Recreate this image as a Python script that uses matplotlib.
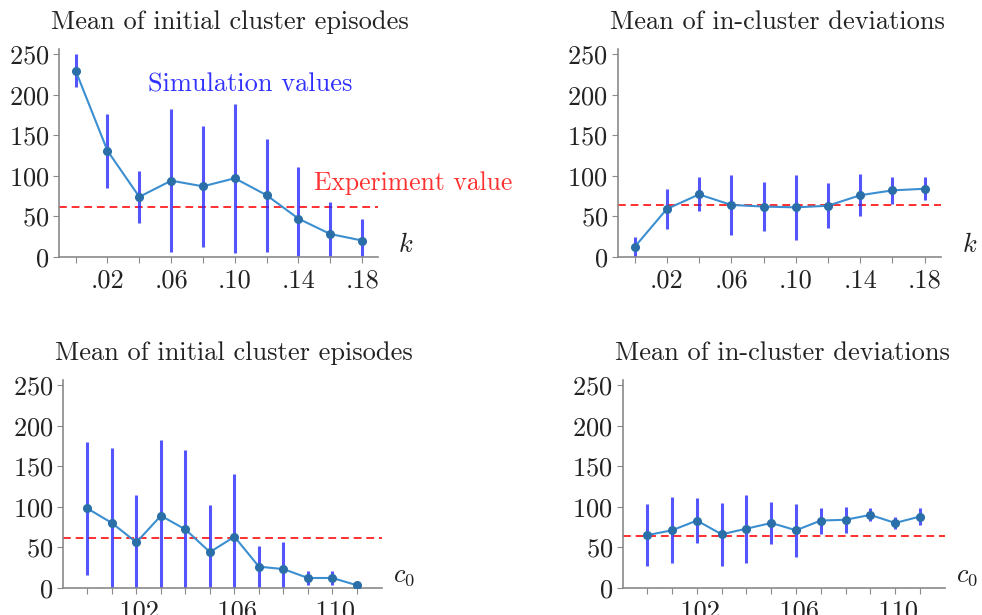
import numpy as np
import matplotlib.pyplot as plt

plt.rcParams['font.family'] = 'cmr10'
plt.rcParams['mathtext.fontset'] = 'cm'
plt.rcParams['axes.formatter.use_mathtext'] = True

# k sweep (top row)
k_vals = [0.00, 0.02, 0.04, 0.06, 0.08, 0.10, 0.12, 0.14, 0.16, 0.18]
k_labels = {0.02: '.02', 0.06: '.06', 0.10: '.10', 0.14: '.14', 0.18: '.18'}
k_init_mean = [230, 131, 74, 94, 87, 97, 76, 47, 28, 20]
k_init_err = [20, 46, 32, 88, 75, 92, 70, 64, 40, 26]
k_dev_mean = [12, 59, 77, 64, 62, 61, 63, 76, 82, 84]
k_dev_err = [12, 25, 21, 37, 30, 40, 28, 26, 17, 14]

# c0 sweep (bottom row)
c0_vals = [0.100, 0.101, 0.102, 0.103, 0.104, 0.105, 0.106, 0.107, 0.108, 0.109, 0.110, 0.111]
c0_labels = {0.102: '.102', 0.106: '.106', 0.110: '.110'}
c0_init_mean = [98, 80, 56, 89, 72, 44, 63, 26, 23, 12, 12, 3]
c0_init_err = [82, 93, 59, 93, 98, 58, 77, 26, 34, 9, 9, 3]
c0_dev_mean = [65, 71, 83, 66, 73, 80, 71, 83, 84, 90, 80, 88]
c0_dev_err = [38, 41, 28, 39, 42, 26, 33, 16, 16, 8, 8, 11]

# experiment values
exp_init = 62
exp_dev = 64.5

LINE_C = '#3b8fd0'
MARK_C = '#2a6fa8'
ERR_C = '#2525ff'
RED = '#ff3030'
GRAY = '#8a8a8a'


def tick_text(v, labels):
    for t, s in labels.items():
        if abs(v - t) < 1e-9:
            return s
    return ''


fig = plt.figure(figsize=(9.82, 6.15), dpi=100)

panels = [
    ([0.060, 0.5826, 0.325, 0.338], k_vals, k_init_mean, k_init_err, exp_init,
     'Mean of initial cluster episodes', k_labels, (-0.0105, 0.19), '$k$', 1.085),
    ([0.629, 0.5826, 0.329, 0.338], k_vals, k_dev_mean, k_dev_err, exp_dev,
     'Mean of in-cluster deviations', k_labels, (-0.0105, 0.19), '$k$', 1.09),
    ([0.064, 0.0444, 0.3245, 0.338], c0_vals, c0_init_mean, c0_init_err, exp_init,
     'Mean of initial cluster episodes', c0_labels, (0.099, 0.112), '$c_0$', 1.07),
    ([0.634, 0.0444, 0.328, 0.338], c0_vals, c0_dev_mean, c0_dev_err, exp_dev,
     'Mean of in-cluster deviations', c0_labels, (0.099, 0.112), '$c_0$', 1.07),
]

axes = []
for rect, x, m, e, ex, title, labels, xlim, xlab, xlab_x in panels:
    ax = fig.add_axes(rect)
    ax.errorbar(x, m, yerr=e, fmt='none', ecolor=ERR_C, elinewidth=2.2, alpha=0.78, zorder=2)
    ax.plot(x, m, '-', color=LINE_C, lw=1.5, zorder=3)
    ax.plot(x, m, 'o', color=MARK_C, ms=5.5, zorder=4)
    ax.axhline(ex, color=RED, ls='--', lw=1.4, dashes=(4, 2.5), zorder=1)
    ax.set_xlim(*xlim)
    ax.set_ylim(0, 257)
    ax.set_yticks([0, 50, 100, 150, 200, 250])
    ax.set_xticks(x)
    ax.set_xticklabels([tick_text(v, labels) for v in x])
    for s in ['top', 'right']:
        ax.spines[s].set_visible(False)
    for s in ['left', 'bottom']:
        ax.spines[s].set_color(GRAY)
        ax.spines[s].set_linewidth(1.2)
    ax.tick_params(axis='both', colors=GRAY, labelcolor='#222222', labelsize=19, length=4)
    ax.tick_params(axis='x', pad=5)
    ax.tick_params(axis='y', pad=3)
    ax.set_title(title, fontsize=19, color='#222222', loc='left', x=-0.025, pad=14)
    ax.text(xlab_x, 0.055, xlab, transform=ax.transAxes, fontsize=19, color='#222222',
            ha='center', va='center')
    axes.append(ax)

axes[0].text(0.6, 0.83, 'Simulation values', transform=axes[0].transAxes,
             fontsize=19, color='#3030ff', ha='center', va='center')
axes[0].text(1.11, 0.355, 'Experiment value', transform=axes[0].transAxes,
             fontsize=18.5, color=RED, ha='center', va='center')

fig.savefig('out.png', dpi=100)
